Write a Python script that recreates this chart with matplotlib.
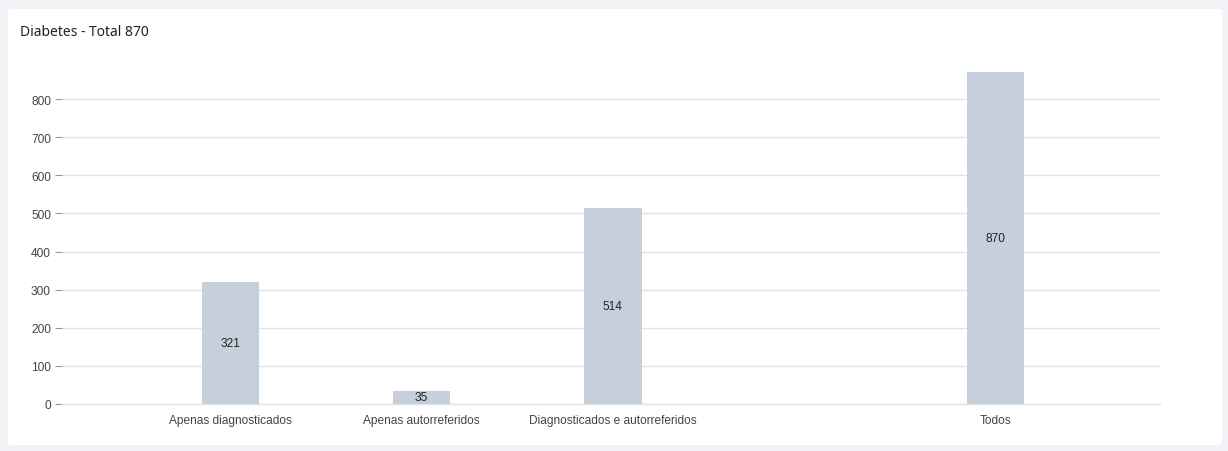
import matplotlib.pyplot as plt
from matplotlib.patches import FancyBboxPatch

# chart data
categories = ["Apenas diagnosticados", "Apenas autorreferidos",
              "Diagnosticados e autorreferidos", "", "Todos"]
values = [321, 35, 514, 0, 870]
yticks = [0, 100, 200, 300, 400, 500, 600, 700, 800]
title = "Diabetes - Total 870"

fig = plt.figure(figsize=(12.28, 4.52), dpi=100, facecolor='#f1f1f6')

# white card behind the chart
card = FancyBboxPatch((8/1228, 6/452), 1214/1228, 436/452,
                      boxstyle='round,pad=0,rounding_size=0.004',
                      transform=fig.transFigure, facecolor='white',
                      edgecolor='none', zorder=-5)
fig.add_artist(card)

fig.text(20/1228, 1 - 32/452, title, fontsize=10, family='Noto Sans',
         color='#222222', va='center', ha='left')

ax = fig.add_axes([62/1228, 47/452, 1098/1228, 343/452])
ax.set_facecolor('none')
ax.set_zorder(2)

x = range(len(categories))
bars = ax.bar(x, values, width=0.3, color='#c6d0dc', zorder=2)
for xi, v in zip(x, values):
    if v > 0:
        ax.text(xi, v / 2, str(v), ha='center', va='center', fontsize=8.6,
                family='Liberation Sans', color='#222222', zorder=3)

ax.set_xlim(-0.88, 4.86)
ax.set_ylim(0, 900)
ax.set_yticks(yticks)
ax.set_xticks(list(x))
ax.set_xticklabels(categories)
ax.yaxis.grid(True, color='#e3e3e3', linewidth=1, zorder=1)
ax.axhline(0, color='#e3e3e3', linewidth=1, zorder=1, clip_on=False)
ax.set_axisbelow(True)
for s in ax.spines.values():
    s.set_visible(False)
ax.tick_params(axis='y', length=5, color='#999999', labelcolor='#444444',
               labelsize=8.6, pad=3)
ax.tick_params(axis='x', length=0, labelcolor='#444444', labelsize=8.6, pad=7)
for lbl in ax.get_xticklabels() + ax.get_yticklabels():
    lbl.set_family('Liberation Sans')

plt.savefig('out.png', dpi=100, facecolor=fig.get_facecolor())
